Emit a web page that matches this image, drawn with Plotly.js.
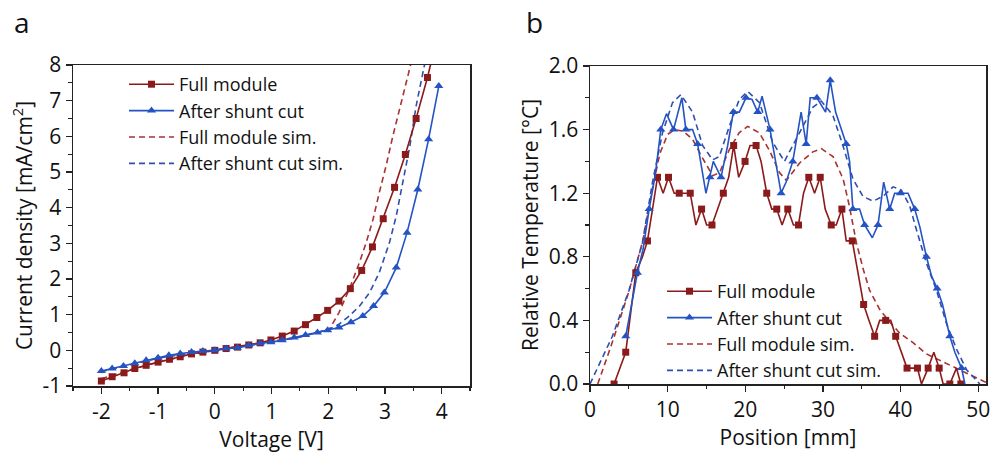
<!DOCTYPE html>
<html><head><meta charset="utf-8">
<script src="https://cdn.plot.ly/plotly-3.0.1.min.js"></script>
<style>html,body{margin:0;padding:0;background:#fff}#chart{width:991px;height:458px}</style>
</head><body><div id="chart"></div>
<script>
// ---------- Panel a : J-V curves ----------
const voltFull = [-2.0,-1.81,-1.60,-1.41,-1.21,-1.00,-0.80,-0.61,-0.41,-0.21,0.00,0.20,0.40,0.60,0.80,0.99,1.19,1.40,1.60,1.80,1.99,2.19,2.39,2.59,2.78,2.97,3.17,3.36,3.55,3.75,3.94];
const jFull    = [-0.86,-0.74,-0.63,-0.51,-0.42,-0.33,-0.25,-0.18,-0.10,-0.05,0.00,0.05,0.09,0.15,0.21,0.29,0.40,0.54,0.72,0.92,1.12,1.38,1.73,2.24,2.90,3.69,4.57,5.49,6.50,7.65,8.90];
const voltShunt = [-2.0,-1.81,-1.61,-1.41,-1.21,-1.00,-0.81,-0.61,-0.41,-0.21,0.00,0.20,0.40,0.60,0.80,0.99,1.19,1.40,1.60,1.81,1.99,2.19,2.40,2.61,2.80,2.99,3.20,3.39,3.58,3.77,3.95];
const jShunt    = [-0.58,-0.51,-0.44,-0.36,-0.28,-0.21,-0.14,-0.09,-0.05,-0.02,0.00,0.05,0.07,0.14,0.20,0.23,0.28,0.36,0.43,0.50,0.56,0.64,0.79,0.96,1.24,1.62,2.32,3.30,4.51,5.92,7.41];
const voltFullSim = [-2.0,-1.5,-1.0,-0.5,0.0,0.5,1.0,1.5,2.02,2.10,2.19,2.37,2.55,2.67,2.79,2.90,3.02,3.14,3.26,3.37,3.46];
const jFullSim    = [-0.80,-0.55,-0.33,-0.15,0.00,0.12,0.25,0.38,0.59,0.80,1.06,1.71,2.46,3.02,3.67,4.42,5.17,6.01,6.76,7.50,8.05];
const voltShuntSim = [-2.0,-1.5,-1.0,-0.5,0.0,0.5,1.0,1.5,2.02,2.19,2.37,2.55,2.73,2.90,3.08,3.20,3.32,3.44,3.55,3.64,3.71];
const jShuntSim    = [-0.60,-0.40,-0.22,-0.10,0.00,0.10,0.22,0.37,0.59,0.73,0.96,1.24,1.62,2.18,3.02,3.77,4.70,5.73,6.85,7.60,8.10];
const voltTicks = [-2, -1, 0, 1, 2, 3, 4];
const voltTickText = ['-2', '-1', '0', '1', '2', '3', '4'];
const jTicks = [-1, 0, 1, 2, 3, 4, 5, 6, 7, 8];
const jTickText = ['-1', '0', '1', '2', '3', '4', '5', '6', '7', '8'];

// ---------- Panel b : temperature profiles ----------
const posFull = [3.10,3.83,4.60,5.25,5.90,6.76,7.40,8.05,8.69,9.42,10.11,10.84,11.49,12.26,12.91,13.64,14.37,15.02,15.71,16.44,17.17,17.86,18.50,19.15,19.97,20.61,21.39,22.03,22.76,23.41,24.05,24.74,25.47,26.20,26.85,27.50,28.18,28.92,29.65,30.29,31.07,31.71,32.44,33.00,33.78,34.51,35.24,35.93,36.66,37.31,38.08,38.73,39.37,40.10,40.83,41.52,42.17,42.69,43.55,44.28,44.97,45.48,46.34,47.20,47.76];
const tFull   = [0.00,0.10,0.20,0.45,0.70,0.80,0.90,1.10,1.30,1.20,1.30,1.20,1.20,1.20,1.20,1.00,1.10,1.00,1.00,1.10,1.20,1.30,1.50,1.30,1.40,1.50,1.50,1.40,1.20,1.10,1.10,1.00,1.10,1.00,1.00,1.20,1.30,1.20,1.30,1.10,1.00,1.00,1.10,0.90,0.90,0.70,0.50,0.40,0.30,0.40,0.40,0.40,0.30,0.20,0.10,0.10,0.10,0.00,0.10,0.20,0.10,0.00,0.00,0.10,0.00];
const posShunt = [4.60,5.34,6.11,6.84,7.62,8.39,9.12,9.85,10.76,11.83,12.35,13.21,13.86,14.93,15.45,15.88,16.87,17.73,18.46,19.23,20.09,20.87,21.60,22.16,23.19,23.88,24.61,25.26,26.12,27.19,27.84,28.36,29.22,30.34,30.94,31.63,33.00,33.43,33.86,34.72,35.37,36.36,37.09,37.82,38.60,39.24,39.97,40.96,41.82,42.47,43.33,43.98,44.71,45.40,46.34,46.99,47.85,48.28];
const tShunt   = [0.30,0.50,0.70,0.85,1.10,1.31,1.60,1.70,1.60,1.80,1.60,1.60,1.51,1.20,1.30,1.40,1.30,1.50,1.71,1.71,1.80,1.79,1.71,1.81,1.60,1.41,1.20,1.27,1.40,1.71,1.51,1.80,1.80,1.71,1.91,1.71,1.51,1.40,1.10,1.10,1.00,0.92,1.00,1.27,1.10,1.20,1.20,1.20,1.10,0.99,0.80,0.68,0.60,0.50,0.30,0.20,0.10,0.00];
const posFullSim = [1.0,3.0,5.0,6.8,8.0,9.0,10.0,10.9,12.0,13.2,14.5,15.8,16.7,17.9,19.2,20.3,21.8,23.1,24.4,25.3,27.0,28.7,29.8,31.3,32.6,33.4,34.3,35.2,36.0,37.3,38.6,39.9,41.6,43.3,45.0,46.7,48.5,50.2,51.0];
const tFullSim   = [0.00,0.28,0.58,0.90,1.22,1.45,1.57,1.60,1.59,1.54,1.42,1.31,1.33,1.47,1.58,1.62,1.58,1.47,1.33,1.28,1.39,1.46,1.48,1.43,1.29,1.12,0.89,0.72,0.59,0.47,0.39,0.32,0.26,0.19,0.15,0.11,0.07,0.03,0.01];
const posShuntSim = [0.0,2.88,5.03,6.76,8.05,9.34,10.63,11.70,13.21,14.50,15.79,16.65,17.94,19.23,20.31,21.82,23.54,25.04,26.98,28.70,29.78,31.28,32.57,33.86,35.15,36.45,37.74,39.03,40.10,41.18,42.04,43.33,44.62,45.91,47.20,48.49,50.21];
const tShuntSim   = [0.00,0.30,0.59,0.89,1.27,1.58,1.77,1.82,1.71,1.50,1.41,1.43,1.62,1.79,1.84,1.77,1.52,1.40,1.58,1.74,1.78,1.69,1.50,1.29,1.18,1.15,1.18,1.24,1.22,1.12,0.97,0.76,0.59,0.38,0.22,0.09,0.00];

const seriesNames = ['Full module', 'After shunt cut', 'Full module sim.', 'After shunt cut sim.'];

const RED = '#8b1a1a', BLUE = '#2453c4', RED_D = '#a83232', BLUE_D = '#2f4fb0';
const FONT = 'Open Sans, Noto Sans, sans-serif';
const everyOther = (arr) => arr.filter((_, i) => i % 2 === 0);

const traces = [
  // panel a
  {x: voltFullSim, y: jFullSim, mode: 'lines', name: seriesNames[2], legend: 'legend', legendrank: 3, showlegend: true,
   line: {color: RED_D, width: 1.6, dash: '6px,4px'}, xaxis: 'x', yaxis: 'y'},
  {x: voltShuntSim, y: jShuntSim, mode: 'lines', name: seriesNames[3], legend: 'legend', legendrank: 4, showlegend: true,
   line: {color: BLUE_D, width: 1.6, dash: '6px,4px'}, xaxis: 'x', yaxis: 'y'},
  {x: voltFull, y: jFull, mode: 'lines+markers', name: seriesNames[0], legend: 'legend', legendrank: 1, showlegend: true,
   line: {color: RED, width: 1.6}, marker: {symbol: 'square', size: 7, color: RED}, xaxis: 'x', yaxis: 'y'},
  {x: voltShunt, y: jShunt, mode: 'lines+markers', name: seriesNames[1], legend: 'legend', legendrank: 2, showlegend: true,
   line: {color: BLUE, width: 1.6}, marker: {symbol: 'triangle-up', size: 8, color: BLUE}, xaxis: 'x', yaxis: 'y'},
  // panel b data
  {x: posFullSim, y: tFullSim, mode: 'lines', showlegend: false,
   line: {color: RED_D, width: 1.6, dash: '6px,4px'}, xaxis: 'x2', yaxis: 'y2'},
  {x: posShuntSim, y: tShuntSim, mode: 'lines', showlegend: false,
   line: {color: BLUE_D, width: 1.6, dash: '6px,4px'}, xaxis: 'x2', yaxis: 'y2'},
  {x: posFull, y: tFull, mode: 'lines', showlegend: false, line: {color: RED, width: 1.6}, xaxis: 'x2', yaxis: 'y2'},
  {x: everyOther(posFull), y: everyOther(tFull), mode: 'markers', showlegend: false,
   marker: {symbol: 'square', size: 7, color: RED}, xaxis: 'x2', yaxis: 'y2'},
  {x: posShunt, y: tShunt, mode: 'lines', showlegend: false, line: {color: BLUE, width: 1.6}, xaxis: 'x2', yaxis: 'y2'},
  {x: everyOther(posShunt), y: everyOther(tShunt), mode: 'markers', showlegend: false,
   marker: {symbol: 'triangle-up', size: 8, color: BLUE}, xaxis: 'x2', yaxis: 'y2'},
  // panel b legend entries (no data)
  {x: [null], y: [null], mode: 'lines+markers', name: seriesNames[0], legend: 'legend2', legendrank: 1, showlegend: true,
   line: {color: RED, width: 1.6}, marker: {symbol: 'square', size: 7, color: RED}, xaxis: 'x2', yaxis: 'y2'},
  {x: [null], y: [null], mode: 'lines+markers', name: seriesNames[1], legend: 'legend2', legendrank: 2, showlegend: true,
   line: {color: BLUE, width: 1.6}, marker: {symbol: 'triangle-up', size: 8, color: BLUE}, xaxis: 'x2', yaxis: 'y2'},
  {x: [null], y: [null], mode: 'lines', name: seriesNames[2], legend: 'legend2', legendrank: 3, showlegend: true,
   line: {color: RED_D, width: 1.6, dash: '6px,4px'}, xaxis: 'x2', yaxis: 'y2'},
  {x: [null], y: [null], mode: 'lines', name: seriesNames[3], legend: 'legend2', legendrank: 4, showlegend: true,
   line: {color: BLUE_D, width: 1.6, dash: '6px,4px'}, xaxis: 'x2', yaxis: 'y2'}
];

const W = 991, H = 458;
const px = v => v / W, py = v => 1 - v / H;

const axBase = {
  showline: true, mirror: true, linecolor: '#222', linewidth: 1.5,
  showgrid: false, zeroline: false, ticks: 'outside', ticklen: 6, tickwidth: 1.3, tickcolor: '#222',
  tickfont: {family: FONT, size: 21, color: '#111'},
  minor: {ticks: 'outside', ticklen: 3.5, tickwidth: 1.2, tickcolor: '#222', showgrid: false}
};
const titleFont = {family: FONT, size: 21, color: '#111'};
const legFont = {family: FONT, size: 18, color: '#111'};

const layout = {
  width: W, height: H,
  margin: {l: 0, r: 0, t: 0, b: 0},
  paper_bgcolor: '#fff', plot_bgcolor: '#fff',
  font: {family: FONT, color: '#111'},
  showlegend: true,
  xaxis: Object.assign({}, axBase, {domain: [px(73), px(470)], range: [-2.5, 4.5],
    tickmode: 'array', tickvals: voltTicks, ticktext: voltTickText,
    minor: Object.assign({}, axBase.minor, {dtick: 0.5, tick0: 0}),
    title: {text: 'Voltage [V]', font: titleFont, standoff: 6}, anchor: 'y'}),
  yaxis: Object.assign({}, axBase, {domain: [py(386), py(65)], range: [-1, 8],
    tickmode: 'array', tickvals: jTicks, ticktext: jTickText,
    minor: Object.assign({}, axBase.minor, {dtick: 0.5, tick0: 0}),
    title: {text: 'Current density [mA/cm<sup>2</sup>]', font: titleFont, standoff: 4}, anchor: 'x'}),
  xaxis2: Object.assign({}, axBase, {domain: [px(590), px(986)], range: [0, 51], dtick: 10, tick0: 0,
    minor: Object.assign({}, axBase.minor, {dtick: 5}),
    title: {text: 'Position [mm]', font: titleFont, standoff: 6}, anchor: 'y2'}),
  yaxis2: Object.assign({}, axBase, {domain: [py(384), py(66)], range: [0, 2], dtick: 0.4, tick0: 0, tickformat: '.1f',
    minor: Object.assign({}, axBase.minor, {dtick: 0.2}),
    title: {text: 'Relative Temperature [°C]', font: titleFont, standoff: 4}, anchor: 'x2'}),
  legend: {x: px(124), y: py(66), xanchor: 'left', yanchor: 'top', bgcolor: 'rgba(0,0,0,0)',
    font: legFont, itemwidth: 45, tracegroupgap: 0, visible: true},
  legend2: {x: px(662), y: py(273), xanchor: 'left', yanchor: 'top', bgcolor: 'rgba(0,0,0,0)',
    font: legFont, itemwidth: 45, tracegroupgap: 0, visible: true},
  annotations: [
    {text: 'a', xref: 'paper', yref: 'paper', x: px(12), y: py(22), xanchor: 'left', yanchor: 'middle',
     showarrow: false, font: {family: FONT, size: 28, color: '#111'}},
    {text: 'b', xref: 'paper', yref: 'paper', x: px(524), y: py(22), xanchor: 'left', yanchor: 'middle',
     showarrow: false, font: {family: FONT, size: 28, color: '#111'}}
  ]
};

Plotly.newPlot('chart', traces, layout, {staticPlot: true, displayModeBar: false});
</script></body></html>
